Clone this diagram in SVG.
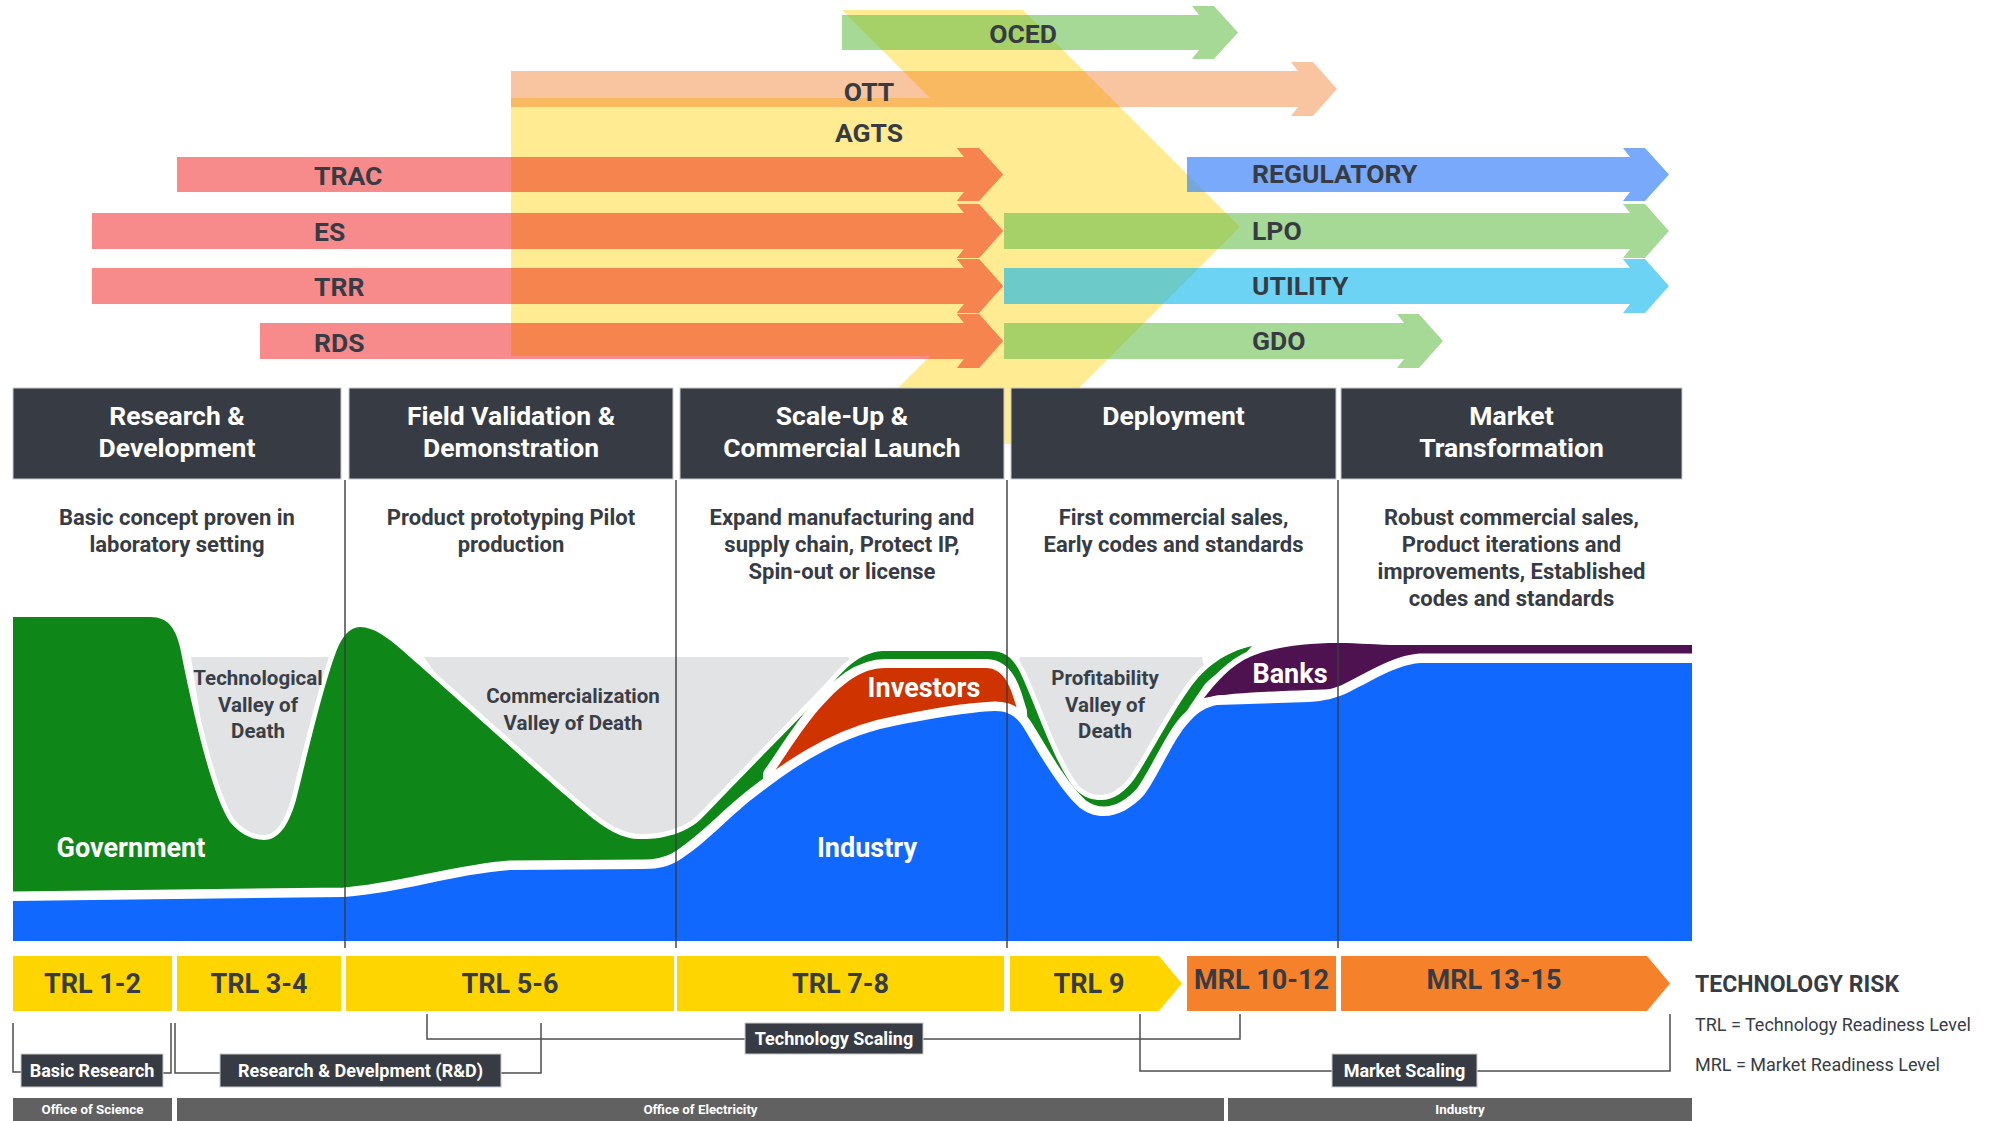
<svg xmlns="http://www.w3.org/2000/svg" width="1991" height="1121" viewBox="0 0 1991 1121">
<style>
text{font-family:Roboto,'Liberation Sans',Arial,sans-serif;font-weight:700}
.lbl{font-size:26.5px;fill:#373c44}
.lc{font-size:26.5px;fill:#373c44;text-anchor:middle}
.hd{font-size:26.5px;fill:#fff;text-anchor:middle}
.desc{font-size:22px;fill:#373c44;text-anchor:middle}
.val{font-size:20.5px;fill:#3a3f47;text-anchor:middle}
.wl{font-size:27px;fill:#fff;text-anchor:middle}
.trl{font-size:27px;fill:#373c44;text-anchor:middle}
.hbox{fill:#373c44;stroke:#c9c9c9;stroke-width:1}
.box{fill:#373c44;stroke:#c9c9c9;stroke-width:1}
.bt{font-size:18px;fill:#fff;text-anchor:middle}
.off{fill:#616161}
.ot{font-size:13.3px;fill:#fff;text-anchor:middle}
.br{fill:none;stroke:#4d4d4d;stroke-width:1.5}
.div{stroke:#3c3c3c;stroke-width:1.4}
.area{stroke:#fff;paint-order:stroke;stroke-linejoin:round}
.pink{fill:#f78b8c}.pinkY{fill:#f6844f}
.peach{fill:#f9c5a1}.peachY{fill:#f9b960}
.grn{fill:#a6d896}.grnY{fill:#a6d168}
.reg{fill:#78a9fa}.regY{fill:#77a7d6}
.util{fill:#6cd3f4}.utilY{fill:#6ccac8}
.yel{fill:#ffd500}.org{fill:#f5822a}
.legend{font-size:18px;font-weight:400;fill:#373c44}
</style>
<defs>
<clipPath id="yc"><path d="M511 98H930L842 10H1023L1240 227L1023 444H842L930 356H511Z"/></clipPath>
</defs>

<g id="agts-band">
<path d="M511 98H930L842 10H1023L1240 227L1023 444H842L930 356H511Z" fill="#ffeb92"/>
</g>

<g id="program-arrows">
<path id="a-oced" class="grn" d="M842 15H1199L1192 6H1214L1238 32.5L1214 59H1192L1199 50H842Z"/>
<path id="a-ott" class="peach" d="M511 71H1298L1291 62H1313L1337 89L1313 116H1291L1298 107H511Z"/>
<path id="a-trac" class="pink" d="M177 157H964L957 148H979L1003 174.5L979 201H957L964 192H177Z"/>
<path id="a-es" class="pink" d="M92 213H964L957 204H979L1003 231L979 258H957L964 249H92Z"/>
<path id="a-trr" class="pink" d="M92 268H964L957 259H979L1003 286L979 313H957L964 304H92Z"/>
<path id="a-rds" class="pink" d="M260 323H964L957 314H979L1003 341L979 368H957L964 359H260Z"/>
<path id="a-reg" class="reg" d="M1187 157H1630L1623 148H1645L1669 174.5L1645 201H1623L1630 192H1187Z"/>
<path id="a-lpo" class="grn" d="M1004 213H1630L1623 204H1645L1669 231L1645 258H1623L1630 249H1004Z"/>
<path id="a-util" class="util" d="M1004 268H1630L1623 259H1645L1669 286L1645 313H1623L1630 304H1004Z"/>
<path id="a-gdo" class="grn" d="M1004 323H1404L1397 314H1419L1443 341L1419 368H1397L1404 359H1004Z"/>
<g clip-path="url(#yc)">
<path class="grnY" d="M842 15H1199L1192 6H1214L1238 32.5L1214 59H1192L1199 50H842Z"/>
<path class="peachY" d="M511 71H1298L1291 62H1313L1337 89L1313 116H1291L1298 107H511Z"/>
<path class="pinkY" d="M177 157H964L957 148H979L1003 174.5L979 201H957L964 192H177Z"/>
<path class="pinkY" d="M92 213H964L957 204H979L1003 231L979 258H957L964 249H92Z"/>
<path class="pinkY" d="M92 268H964L957 259H979L1003 286L979 313H957L964 304H92Z"/>
<path class="pinkY" d="M260 323H964L957 314H979L1003 341L979 368H957L964 359H260Z"/>
<path class="regY" d="M1187 157H1630L1623 148H1645L1669 174.5L1645 201H1623L1630 192H1187Z"/>
<path class="grnY" d="M1004 213H1630L1623 204H1645L1669 231L1645 258H1623L1630 249H1004Z"/>
<path class="utilY" d="M1004 268H1630L1623 259H1645L1669 286L1645 313H1623L1630 304H1004Z"/>
<path class="grnY" d="M1004 323H1404L1397 314H1419L1443 341L1419 368H1397L1404 359H1004Z"/>
</g>
<text class="lc" x="1023" y="43">OCED</text>
<text class="lc" x="869" y="101">OTT</text>
<text class="lc" x="869" y="142">AGTS</text>
<text class="lbl" x="314" y="185">TRAC</text>
<text class="lbl" x="314" y="241">ES</text>
<text class="lbl" x="314" y="296">TRR</text>
<text class="lbl" x="314" y="352">RDS</text>
<text class="lbl" x="1252" y="183">REGULATORY</text>
<text class="lbl" x="1252" y="240">LPO</text>
<text class="lbl" x="1252" y="295">UTILITY</text>
<text class="lbl" x="1252" y="350">GDO</text>
</g>

<g id="stage-headers">
<g id="h-rd"><rect class="hbox" x="13" y="388" width="328" height="91"/><text class="hd" x="177" y="425">Research &amp;</text><text class="hd" x="177" y="457">Development</text></g>
<g id="h-field"><rect class="hbox" x="349" y="388" width="324" height="91"/><text class="hd" x="511" y="425">Field Validation &amp;</text><text class="hd" x="511" y="457">Demonstration</text></g>
<g id="h-scale"><rect class="hbox" x="680" y="388" width="324" height="91"/><text class="hd" x="842" y="425">Scale-Up &amp;</text><text class="hd" x="842" y="457">Commercial Launch</text></g>
<g id="h-deploy"><rect class="hbox" x="1011" y="388" width="325" height="91"/><text class="hd" x="1173.5" y="425">Deployment</text></g>
<g id="h-market"><rect class="hbox" x="1341" y="388" width="341" height="91"/><text class="hd" x="1511.5" y="425">Market</text><text class="hd" x="1511.5" y="457">Transformation</text></g>
</g>

<g id="stage-descriptions">
<text class="desc" x="177" y="525">Basic concept proven in</text>
<text class="desc" x="177" y="552">laboratory setting</text>
<text class="desc" x="511" y="525">Product prototyping Pilot</text>
<text class="desc" x="511" y="552">production</text>
<text class="desc" x="842" y="525">Expand manufacturing and</text>
<text class="desc" x="842" y="552">supply chain, Protect IP,</text>
<text class="desc" x="842" y="579">Spin-out or license</text>
<text class="desc" x="1173.5" y="525">First commercial sales,</text>
<text class="desc" x="1173.5" y="552">Early codes and standards</text>
<text class="desc" x="1511.5" y="525">Robust commercial sales,</text>
<text class="desc" x="1511.5" y="552">Product iterations and</text>
<text class="desc" x="1511.5" y="579">improvements, Established</text>
<text class="desc" x="1511.5" y="606">codes and standards</text>
</g>

<g id="funding-chart">
<g id="valleys" fill="#e1e3e5">
<path d="M191 657H330L302 845H220Z"/>
<path d="M424 657H848L862 680L760 850H560Z"/>
<path d="M1020 657H1202L1210 690L1150 830H1050L1012 690Z"/>
</g>
<path id="government" class="area" fill="#0f8718" stroke-width="10" d="M13 617L150 617C170 617 178 630 183 662C195 720 212 795 230 822C240 834 252 840 264 840C277 840 288 828 296 800C306 760 322 690 336 652C342 636 350 627 360 627C374 627 388 638 402 650C450 692 530 765 571 800C595 821 615 838 638 839C660 840 686 834 702 818C745 773 790 728 832 684C845 668 860 653 882 651L990 651C1005 651 1013 658 1020 672C1035 703 1055 765 1075 789C1084 798 1093 800 1101 800C1114 800 1125 792 1135 778C1152 752 1170 716 1190 688C1205 667 1225 652 1252 646L1244 655C1230 664 1215 674 1205 684L1190 706L1180 722L1180 941L13 941Z"/>
<path id="investors" class="area" fill="#cf3300" stroke-width="18" d="M772 775C790 750 815 705 850 680C862 672 872 668 886 668L986 668C1000 668 1008 680 1013 696L1018 712L1020 760L775 800Z"/>
<path id="banks" class="area" fill="#4f1250" stroke-width="12" d="M1204 698C1215 684 1230 665 1252 656C1275 647 1305 643 1338 643C1360 643 1375 645 1400 645L1692 645L1692 655L1430 655C1405 656 1392 665 1380 673C1365 682 1350 688 1338 689L1309 690C1260 692 1230 693 1204 698Z"/>
<path id="industry" class="area" fill="#1068ff" stroke-width="19" d="M13 901L344 897C400 893 455 874 510 870L644 869C660 869 668 866 676 862C705 845 730 815 760 793C790 770 830 742 880 729C930 718 970 712 995 711C1010 711 1018 718 1025 730C1040 755 1060 790 1080 808C1090 815 1097 816 1104 816C1118 816 1132 808 1144 795C1159 775 1174 737 1190 721C1199 711 1207 707 1217 705L1309 702C1325 701 1335 698 1345 694C1370 682 1395 665 1420 663L1692 663L1692 941L13 941Z"/>
<text class="val" x="258" y="685">Technological</text>
<text class="val" x="258" y="712">Valley of</text>
<text class="val" x="258" y="738">Death</text>
<text class="val" x="573" y="703">Commercialization</text>
<text class="val" x="573" y="730">Valley of Death</text>
<text class="val" x="1105" y="685">Profitability</text>
<text class="val" x="1105" y="712">Valley of</text>
<text class="val" x="1105" y="738">Death</text>
<text class="wl" x="131" y="857">Government</text>
<text class="wl" x="867" y="857">Industry</text>
<text class="wl" x="924" y="697">Investors</text>
<text class="wl" x="1290" y="683">Banks</text>
</g>

<g id="dividers">
<line class="div" x1="345" y1="480" x2="345" y2="948"/>
<line class="div" x1="676" y1="480" x2="676" y2="948"/>
<line class="div" x1="1007" y1="480" x2="1007" y2="948"/>
<line class="div" x1="1338" y1="480" x2="1338" y2="948"/>
</g>

<g id="readiness-levels">
<g id="trl12"><rect class="yel" x="13" y="956" width="159" height="55"/><text class="trl" x="92.5" y="993">TRL 1-2</text></g>
<g id="trl34"><rect class="yel" x="177" y="956" width="164" height="55"/><text class="trl" x="259" y="993">TRL 3-4</text></g>
<g id="trl56"><rect class="yel" x="346" y="956" width="328" height="55"/><text class="trl" x="510" y="993">TRL 5-6</text></g>
<g id="trl78"><rect class="yel" x="677" y="956" width="327" height="55"/><text class="trl" x="840.5" y="993">TRL 7-8</text></g>
<g id="trl9"><path class="yel" d="M1010 956H1159L1182 983.5L1159 1011H1010Z"/><text class="trl" x="1089" y="993">TRL 9</text></g>
<g id="mrl1012"><rect class="org" x="1187" y="956" width="149" height="55"/><text class="trl" x="1261.5" y="989">MRL 10-12</text></g>
<g id="mrl1315"><path class="org" d="M1341 956H1647L1670 983.5L1647 1011H1341Z"/><text class="trl" x="1494" y="989">MRL 13-15</text></g>
</g>

<g id="legend">
<text x="1695" y="992" style="font-size:23px;fill:#373c44">TECHNOLOGY RISK</text>
<text class="legend" x="1695" y="1031">TRL = Technology Readiness Level</text>
<text class="legend" x="1695" y="1071">MRL = Market Readiness Level</text>
</g>

<g id="brackets">
<path class="br" d="M13 1023V1072H22"/>
<path class="br" d="M163 1073H171V1023"/>
<path class="br" d="M175 1023V1073H220"/>
<path class="br" d="M501 1073H541V1023"/>
<path class="br" d="M427 1014V1039H745"/>
<path class="br" d="M923 1039H1240V1014"/>
<path class="br" d="M1140 1014V1071H1332"/>
<path class="br" d="M1477 1071H1670V1014"/>
</g>

<g id="phase-boxes">
<g id="b-basic"><rect class="box" x="21" y="1054" width="142" height="33"/><text class="bt" x="92" y="1077">Basic Research</text></g>
<g id="b-rd"><rect class="box" x="220" y="1054" width="281" height="33"/><text class="bt" x="360.5" y="1077">Research &amp; Develpment (R&amp;D)</text></g>
<g id="b-tech"><rect class="box" x="745" y="1023" width="178" height="31"/><text class="bt" x="834" y="1045">Technology Scaling</text></g>
<g id="b-market"><rect class="box" x="1332" y="1054" width="145" height="33"/><text class="bt" x="1404.5" y="1077">Market Scaling</text></g>
</g>

<g id="offices">
<g id="o-science"><rect class="off" x="13" y="1098" width="159" height="23"/><text class="ot" x="92.5" y="1114">Office of Science</text></g>
<g id="o-elec"><rect class="off" x="177" y="1098" width="1047" height="23"/><text class="ot" x="700.5" y="1114">Office of Electricity</text></g>
<g id="o-industry"><rect class="off" x="1228" y="1098" width="464" height="23"/><text class="ot" x="1460" y="1114">Industry</text></g>
</g>
</svg>
